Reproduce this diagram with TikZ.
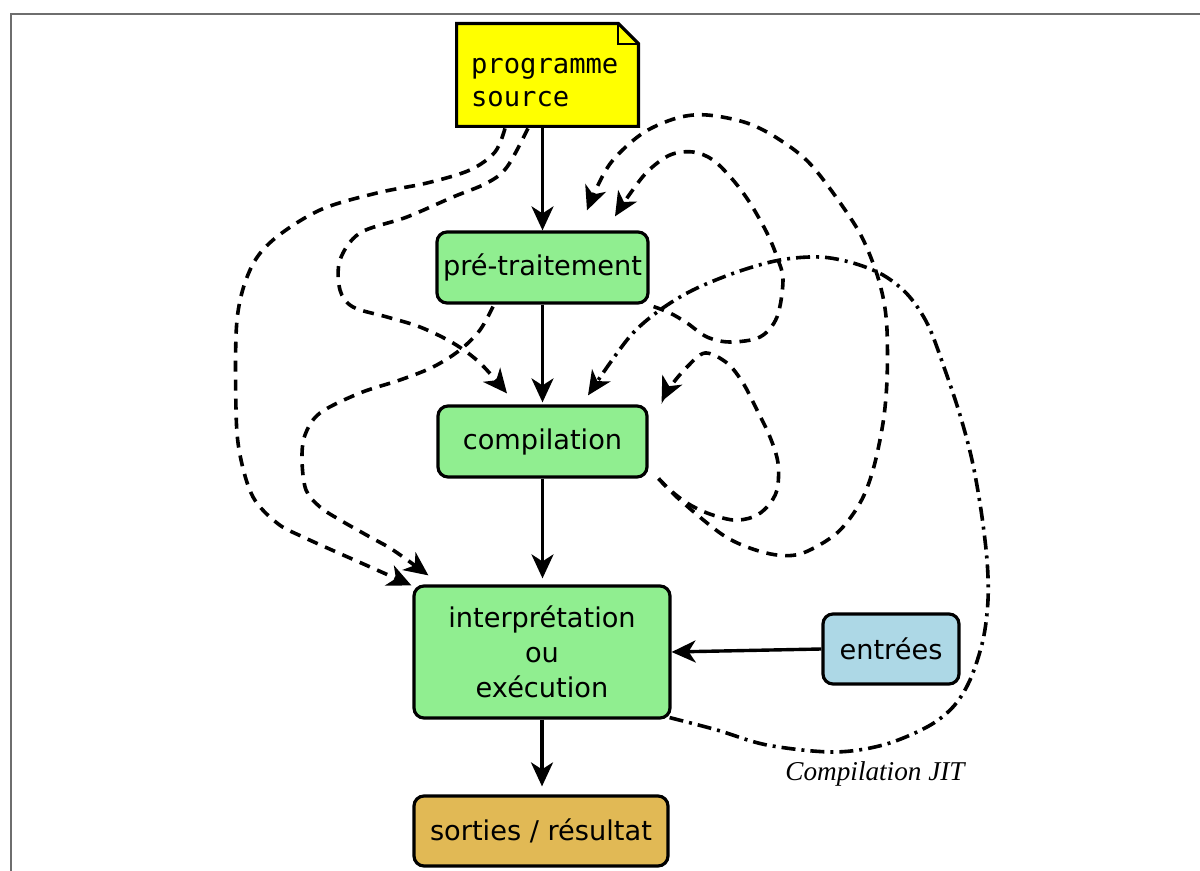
\documentclass[tikz,border=0pt]{standalone}
\usepackage{fontspec}
\setsansfont{DejaVu Sans}
\setmonofont{DejaVu Sans Mono}
\newfontfamily\jitfont{Liberation Serif}
\usetikzlibrary{arrows.meta,backgrounds}

\definecolor{notefill}{HTML}{FFFF00}
\definecolor{stagefill}{HTML}{90EE90}
\definecolor{inputfill}{HTML}{ADD8E6}
\definecolor{outputfill}{HTML}{E1B955}
\definecolor{framegray}{HTML}{6E6E6E}

\begin{document}
\begin{tikzpicture}[x=0.5pt,y=-0.5pt,
  box/.style={draw=black, line width=1.6pt, rounded corners=5pt, inner sep=0pt,
    font=\sffamily\fontsize{13.6}{17.5}\selectfont, align=center},
  stage/.style={box, fill=stagefill},
  arr/.style={line width=1.7pt, -{Stealth[length=12pt,width=11pt,inset=3.5pt]}},
  dashedarr/.style={arr, line width=1.8pt, dash pattern=on 5.5pt off 4pt},
  dotdasharr/.style={arr, line width=1.8pt, dash pattern=on 7pt off 3pt on 1.5pt off 3pt},
  plotsm/.style={smooth, tension=0.55}
]
\useasboundingbox (0,0) rectangle (1200,871);

% page frame (only its top and left edges fall inside the picture)
\draw[framegray, line width=1pt] (11,871) -- (11,14) -- (1200,14);

% source file: a note with a folded corner
\node[inner sep=0pt, minimum width=90.5pt, minimum height=51pt] (src) at (547.5,75) {};
\begin{scope}[on background layer]
  \draw[line width=1.6pt, fill=notefill, line join=miter]
    (src.north west) -- ([xshift=-10pt]src.north east) -- ([yshift=-10pt]src.north east)
    -- (src.south east) -- (src.south west) -- cycle;
  \draw[line width=1pt] ([xshift=-10pt]src.north east) |- ([yshift=-10pt]src.north east);
\end{scope}
% the base anchor of this two-line node sits on the baseline of its last line
\node[inner sep=0pt, anchor=base west, align=left,
      font=\ttfamily\fontsize{13.6}{16.5}\selectfont]
      (srctext) at ([xshift=7pt,yshift=-41.5pt]src.north west) {programme\\source};

% processing stages
\node[stage, minimum width=105.5pt, minimum height=35.5pt] (pre) at (542.5,267.5) {pré-traitement};
\node[stage, minimum width=104.5pt, minimum height=35.5pt] (comp) at (542.5,441.5) {compilation};
\node[stage, minimum width=128pt, minimum height=66pt] (interp) at (542,652) {interprétation\\ou\\exécution};
\node[box, fill=inputfill, minimum width=68pt, minimum height=35pt] (ent) at (891,649) {entrées};
\node[box, fill=outputfill, minimum width=127pt, minimum height=35pt] (out) at (541,831) {sorties / résultat};

% main chain
\draw[arr] (src.south -| pre.north) -- (pre.north);
\draw[arr] (pre.south) -- ([yshift=1pt]comp.north);
\draw[arr] (comp.south) -- ([yshift=3pt]interp.north -| comp.south);
\draw[arr] (interp.south -| out.north) ++(1,0) coordinate (io) (io) -- ([yshift=4pt]io |- out.north);
\draw[arr] (ent.west) -- (interp.east);

% dashed bypasses on the left
\draw[dashedarr] plot[plotsm] coordinates {([xshift=-21.25pt,yshift=-1pt]src.south) (495,152) (470,170)
  (427,183) (377,193) (320,210) (273,240) (250,270) (237,320) (236,410) (240,455) (253,497)
  (277,523) (303,537) (377,570) ([xshift=-0.5pt,yshift=-0.5pt]interp.north west)};
\draw[dashedarr] plot[plotsm] coordinates {([xshift=-9.75pt,yshift=-1pt]src.south) (507,167)
  (487,183) (453,197) (407,217) (360,233) (340,260) (340,290) (353,307) (387,317) (420,327)
  (453,343) (480,363) ([xshift=-17.75pt,yshift=5.5pt]comp.north)};
\draw[dashedarr] plot[plotsm] coordinates {([xshift=-24.75pt,yshift=-1pt]pre.south) (480,330)
  (460,350) (433,367) (400,380) (360,393) (320,413) (305,435) (302,460) (306,490) (320,507)
  (340,520) (370,537) (393,550) ([xshift=8pt,yshift=4.5pt]interp.north west)};

% dashed loops on the right
\draw[dashedarr] plot[plotsm] coordinates {([xshift=5pt]comp.south east) (680,500) (720,533)
  (747,547) (777,555) (803,553) (837,533) (860,503) (873,470) (883,423) (887,380) (887,330)
  (883,297) (873,263) (855,225) (813,167) (780,140) (747,123) (707,115) (677,118) (643,133)
  (613,160) (597,187) ([xshift=22.25pt,yshift=10pt]pre.north)};
\draw[dashedarr] plot[plotsm] coordinates {([xshift=2pt,yshift=-1pt]pre.south east) (670,313)
  (687,323) (707,337) (730,342) (760,337) (777,317) (783,280) (777,257) (767,233) (750,203)
  (733,180) (713,160) (693,152) (670,155) (647,172) (627,198) ([xshift=36.25pt,yshift=7pt]pre.north)};
\draw[dashedarr] plot[plotsm] coordinates {([xshift=5pt]comp.south east) (670,490) (687,503)
  (707,513) (733,520) (753,517) (767,507) (777,490) (778,463) (770,437) (757,410) (743,383)
  (727,363) (705,353) (687,367) (670,387) ([xshift=6.5pt,yshift=1.5pt]comp.north east)};

% just-in-time compilation
\draw[dotdasharr] plot[plotsm] coordinates {([xshift=-1pt,yshift=1pt]interp.south east) (717,730)
  (767,745) (833,752) (883,745) (927,727) (953,707) (970,680) (983,640) (988,600) (987,560)
  (981,510) (972,460) (960,415) (945,370) (928,325) (908,295) (883,275) (853,263)
  (820,257) (780,260) (737,272) (693,290) (660,310) (633,333) (610,363)
  ([xshift=22.75pt,yshift=4.5pt]comp.north)};
\node[font=\jitfont\itshape\fontsize{13.6}{16}\selectfont, anchor=base, inner sep=0pt] (jit)
  at (875,780) {Compilation JIT};
\end{tikzpicture}
\end{document}
